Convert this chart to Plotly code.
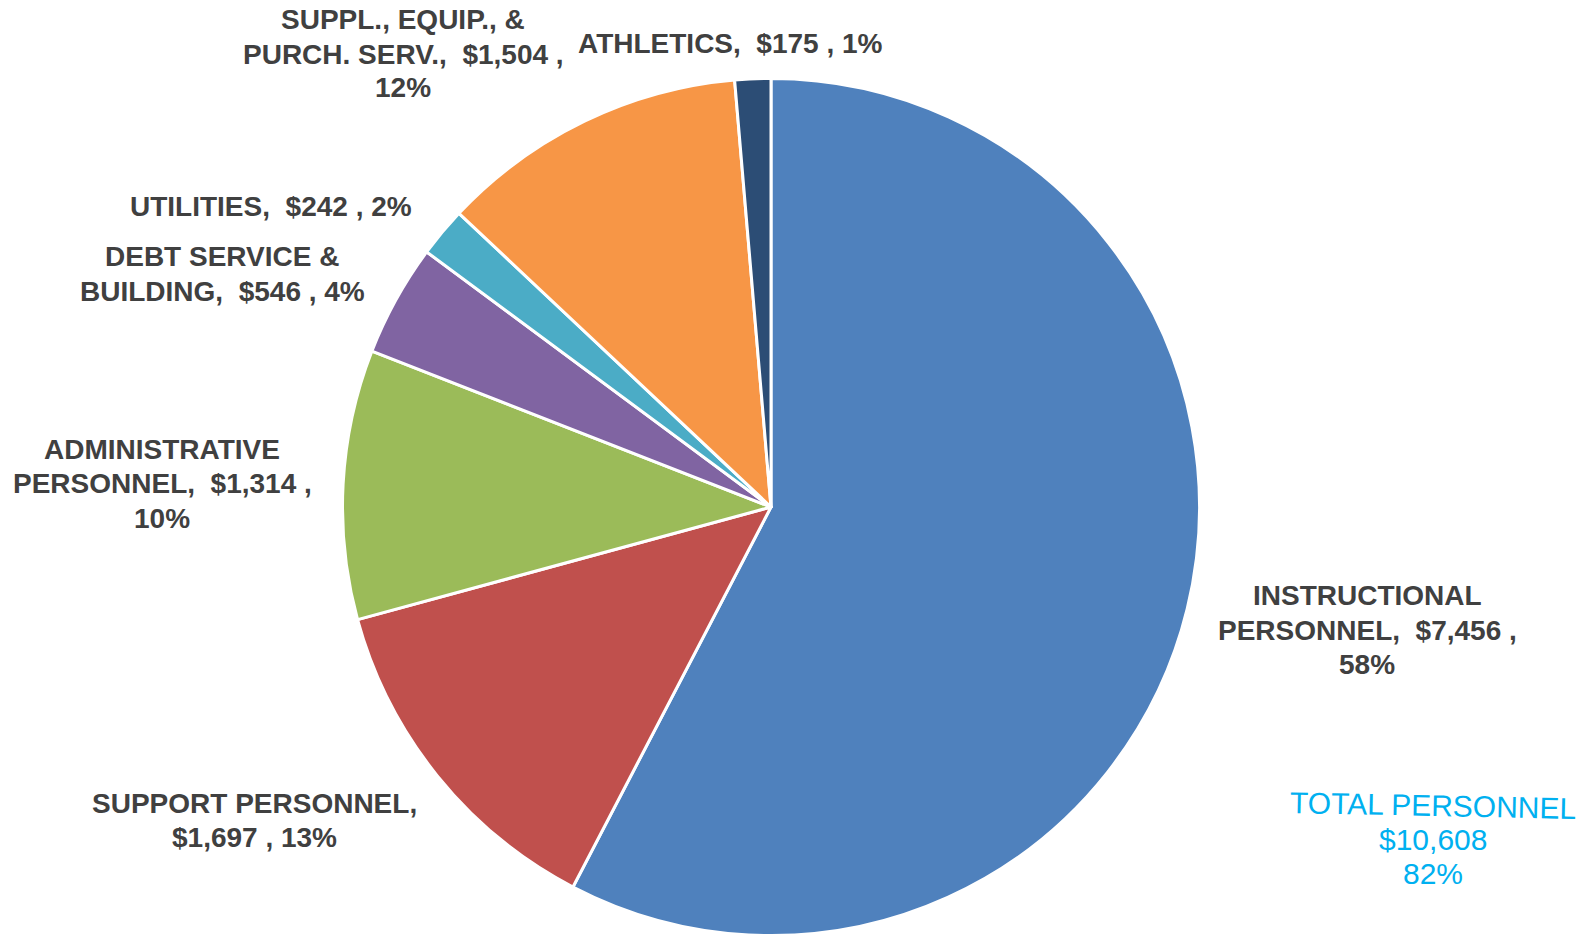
import plotly.graph_objects as go

categories = ["INSTRUCTIONAL PERSONNEL", "SUPPORT PERSONNEL", "ADMINISTRATIVE PERSONNEL",
              "DEBT SERVICE & BUILDING", "UTILITIES", "SUPPL., EQUIP., & PURCH. SERV.", "ATHLETICS"]
values = [7456, 1697, 1314, 546, 242, 1504, 175]
colors = ["#4F81BD", "#C0504D", "#9BBB59", "#8064A2", "#4BACC6", "#F79646", "#2C4D75"]
total_personnel_label = "TOTAL PERSONNEL"
total_personnel_value = 10608

W, H = 1590, 934
OFF = 8  # page body margin offset
total = sum(values)
pcts = [round(v / total * 100) for v in values]

def lab(i):
    return f"${values[i]:,} , {pcts[i]}%"

# label lines (wrapped like the original) and their pixel centres
label_lines = [
    (["INSTRUCTIONAL", f"PERSONNEL,  ${values[0]:,} ,", f"{pcts[0]}%"], 1367, [595, 630, 664]),
    (["SUPPORT PERSONNEL,", lab(1)], 254, [803, 837]),
    (["ADMINISTRATIVE", f"PERSONNEL,  ${values[2]:,} ,", f"{pcts[2]}%"], 162, [449, 484, 518]),
    (["DEBT SERVICE &", f"BUILDING,  {lab(3)}"], 222, [256, 291]),
    ([f"UTILITIES,  {lab(4)}"], 271, [206]),
    (["SUPPL., EQUIP., &", f"PURCH. SERV.,  ${values[5]:,} ,", f"{pcts[5]}%"], 403, [20, 54, 88]),
    ([f"ATHLETICS,  {lab(6)}"], 730, [44]),
]

fig = go.Figure(go.Pie(
    labels=categories, values=values, sort=False, direction="clockwise", rotation=0,
    marker=dict(colors=colors, line=dict(color="white", width=3)),
    textinfo="none", hoverinfo="label+value+percent", showlegend=False,
    domain=dict(x=[334.5 / W, 1191.5 / W], y=[1 - 927.5 / H, 1 - 70.5 / H]),
))

annotations = []
for lines, cx, ys in label_lines:
    for t, y in zip(lines, ys):
        annotations.append(dict(
            text=t, x=(cx - OFF) / W, y=1 - (y - OFF) / H, xref="paper", yref="paper",
            xanchor="center", yanchor="middle", showarrow=False,
            font=dict(family="Arial, Liberation Sans", size=28, color="#404040", weight="bold"),
        ))

tp_lines = [total_personnel_label, f"${total_personnel_value:,}", f"{round(total_personnel_value / total * 100)}%"]
for t, y, ang in zip(tp_lines, [806, 840, 874], [1.2, 0, 0]):
    annotations.append(dict(
        text=t, x=(1431 - 6) / W, y=1 - (y - 9) / H, xref="paper", yref="paper",
        xanchor="center", yanchor="middle", showarrow=False, textangle=ang,
        font=dict(family="Arial, Liberation Sans", size=30, color="#00B0F0"),
    ))

fig.update_layout(
    width=W, height=H, margin=dict(l=0, r=0, t=0, b=0),
    paper_bgcolor="white", plot_bgcolor="white",
    annotations=annotations,
)

fig.write_html("out.html")
